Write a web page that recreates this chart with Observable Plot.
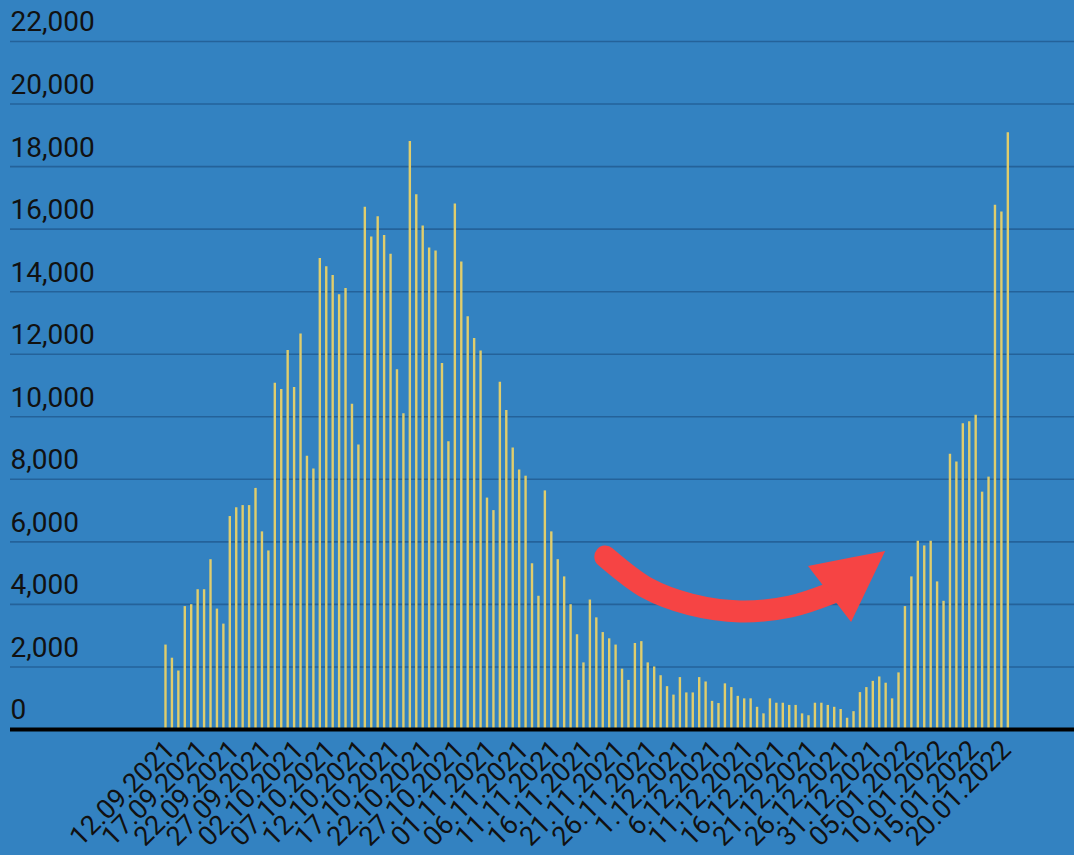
<!DOCTYPE html>
<html><head><meta charset="utf-8">
<script src="https://cdn.jsdelivr.net/npm/d3@7"></script>
<script src="https://cdn.jsdelivr.net/npm/@observablehq/plot@0.6"></script>
<style>
html,body{margin:0;padding:0;background:#3382c1;}
#chart{width:1074px;height:855px;overflow:hidden;}
</style></head><body><div id="chart"></div>
<script>
// ---- data ----
const startDate = "2021-09-12";
const cases = [
  2700,2280,1870,3930,3990,4470,4470,5430,3850,3370,
  6810,7090,7160,7160,7710,6320,5710,11070,10870,12120,
  10940,12650,8740,8330,15060,14800,14520,13900,14100,10400,
  9100,16700,15750,16400,15800,15200,11500,10100,18800,17100,
  16100,15400,15300,11700,9200,16800,14950,13200,12500,12100,
  7400,7000,11100,10200,9000,8300,8100,5300,4260,7630,
  6320,5430,4880,3990,3030,2130,4140,3570,3100,2900,
  2700,1930,1570,2750,2810,2130,2000,1720,1370,1100,
  1660,1170,1170,1660,1520,900,830,1460,1340,1060,
  980,980,710,500,980,840,840,770,770,500,
  440,840,840,770,710,640,360,570,1180,1340,
  1540,1680,1480,980,1810,3930,4880,6020,5870,6020,
  4720,4100,8800,8550,9780,9840,10050,7590,8070,16760,
  16550,19080
];
const tickLabels = [
  "12.09.2021","17.09.2021","22.09.2021","27.09.2021","02.10.2021","07.10.2021",
  "12.10.2021","17.10.2021","22.10.2021","27.10.2021","01.11.2021","06.11.2021",
  "11.11.2021","16.11.2021","21.11.2021","26.11.2021","1.12.2021","6.12.2021",
  "11.12.2021","16.12.2021","21.12.2021","26.12.2021","31.12.2021","05.01.2022",
  "10.01.2022","15.01.2022","20.01.2022"
];
const tickEvery = 5;
const yTicks = [0,2000,4000,6000,8000,10000,12000,14000,16000,18000,20000,22000];
// red arrow annotation (day offset from start, value)
const arrowDays   = [68.4, 75.0, 81.6, 89.4, 97.2, 103.4];
const arrowValues = [5530, 4510, 4000, 3775, 3935, 4350];
const headDays = [100.0, 106.7, 112.0];
const headLow  = [5213, 3422, 5692];
const headHigh = [5213, 5481, 5692];

// ---- build ----
const t0 = d3.utcParse("%Y-%m-%d")(startDate);
const dayAt = d => d3.utcMinute.offset(t0, Math.round(d * 1440));
const bars = cases.map((v, i) => ({date: d3.utcDay.offset(t0, i), value: v}));
const tickDates = tickLabels.map((_, i) => d3.utcDay.offset(t0, i * tickEvery));
const labelOf = new Map(tickDates.map((d, i) => [+d, tickLabels[i]]));
const arrow = arrowDays.map((d, i) => ({date: dayAt(d), value: arrowValues[i]}));
const head = headDays.map((d, i) => ({date: dayAt(d), lo: headLow[i], hi: headHigh[i]}));

const W = 1074, H = 855;
const stepPx = 6.43, firstPx = 165, mL = 10, mR = 0;
const xDomain = [dayAt(-(firstPx - mL) / stepPx), dayAt((W - mR - firstPx) / stepPx)];

const plot = Plot.plot({
  width: W, height: H,
  marginLeft: mL, marginRight: mR, marginTop: 41, marginBottom: 126,
  style: {background: "#3382c1", fontFamily: "Roboto, sans-serif", color: "#111"},
  x: {type: "utc", domain: xDomain},
  y: {domain: [0, 22000]},
  marks: [
    Plot.gridY(yTicks.filter(d => d > 0), {stroke: "#24629a", strokeOpacity: 1, strokeWidth: 1.6}),
    Plot.axisY(yTicks, {tickSize: 0, tickPadding: 0, textAnchor: "start", dy: -19, fontSize: 28,
      tickFormat: d3.format(","), label: null, fill: "#111"}),
    Plot.ruleX(bars, {x: "date", y1: 0, y2: "value", stroke: "#e0cd6c", strokeWidth: 2.4}),
    Plot.ruleY([0], {stroke: "#000", strokeWidth: 4}),
    Plot.axisX(tickDates, {tickFormat: d => labelOf.get(+d), tickRotate: -45, tickSize: 0,
      tickPadding: 16, dx: 5, fontSize: 27, label: null, fill: "#111"}),
    Plot.line(arrow, {x: "date", y: "value", curve: "catmull-rom", stroke: "#f64444",
      strokeWidth: 22, strokeLinecap: "round"}),
    Plot.areaY(head, {x: "date", y1: "lo", y2: "hi", fill: "#f64444", curve: "linear"})
  ]
});
document.getElementById("chart").appendChild(plot);
</script>
</body></html>
